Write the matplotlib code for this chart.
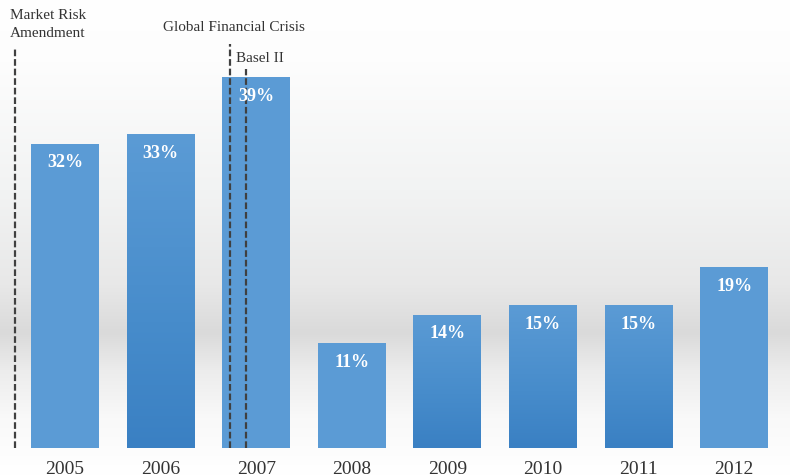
import matplotlib.pyplot as plt
import numpy as np
from matplotlib.colors import LinearSegmentedColormap

years = ["2005", "2006", "2007", "2008", "2009", "2010", "2011", "2012"]
shares = [32, 33, 39, 11, 14, 15, 15, 19]
shaded = [False, True, False, False, True, True, True, False]

# regulatory events, placed on the year axis (bar index units)
event_names = ["Market Risk\nAmendment", "Global Financial Crisis", "Basel II"]
event_pos = [-0.523, 1.726, 1.893]
event_top = [42.0, 42.5, 39.9]

plt.rcParams["font.family"] = "serif"
plt.rcParams["font.serif"] = ["Liberation Serif", "DejaVu Serif"]

fig = plt.figure(figsize=(7.9, 4.77), dpi=100)

# soft grey band behind the bars (positions measured from the top)
bg = fig.add_axes([0, 0, 1, 1], zorder=0)
bg.axis("off")
band = LinearSegmentedColormap.from_list(
    "band",
    [(0.0, "#ffffff"), (0.13, "#fdfdfd"), (0.4, "#f2f3f3"), (0.6, "#e8e8e8"),
     (0.70, "#dadada"), (0.78, "#ececec"), (0.88, "#f9f9f9"), (1.0, "#ffffff")],
)
grad = np.linspace(0, 1, 256).reshape(-1, 1)
bg.imshow(grad, aspect="auto", cmap=band, extent=[0, 1, 0, 1], vmin=0, vmax=1)
bg.set_xlim(0, 1)
bg.set_ylim(0, 1)

ax = fig.add_axes([0, 28 / 477, 1, 449 / 477], zorder=1)
ax.patch.set_alpha(0)
x = np.arange(len(years))
ax.set_xlim(-0.680, 7.584)
ax.set_ylim(0, 47.26)

bar_cmap = LinearSegmentedColormap.from_list(
    "bar", [(0.0, "#3a80c3"), (0.4, "#478ccb"), (1.0, "#5b9bd5")]
)
bars = ax.bar(x, shares, width=0.711, color="#5b9bd5", zorder=2)
for b, s in zip(bars, shaded):
    if not s:
        continue
    x0, y0 = b.get_x(), b.get_y()
    w, h = b.get_width(), b.get_height()
    b.set_facecolor("none")
    im = ax.imshow(np.linspace(0, 1, 256).reshape(-1, 1), aspect="auto",
                   cmap=bar_cmap, extent=[x0, x0 + w, y0, y0 + h],
                   origin="lower", zorder=2)
    im.set_clip_path(b)

for xi, v in zip(x, shares):
    ax.text(xi, v - 1.85, f"{v}%", ha="center", va="center", color="white",
            fontsize=13, fontweight="bold", zorder=4)

for pos, top in zip(event_pos, event_top):
    ax.plot([pos, pos], [0, top], color="#404040", lw=1.6,
            dashes=(3, 1.3), zorder=3)

ax.text(-0.575, 46.3, event_names[0], ha="left", va="top", fontsize=11,
        color="#333333", linespacing=1.5)
ax.text(1.763, 45.0, event_names[1], ha="center", va="top", fontsize=11,
        color="#333333")
ax.text(1.79, 41.8, event_names[2], ha="left", va="top", fontsize=11,
        color="#333333")

ax.set_xticks(x, years, fontsize=14, color="#333333")
ax.tick_params(axis="x", length=0, pad=9)
ax.set_yticks([])
for sp in ax.spines.values():
    sp.set_visible(False)

fig.savefig("out.png", dpi=100)
